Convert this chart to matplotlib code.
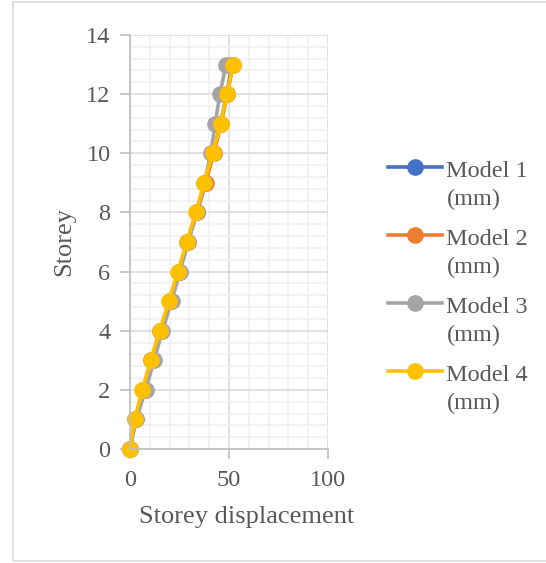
import numpy as np
import matplotlib.pyplot as plt
from matplotlib.patches import Rectangle
from matplotlib.legend_handler import HandlerLine2D

plt.rcParams['font.family'] = ['Liberation Serif', 'DejaVu Serif']

storey = [0, 1, 2, 3, 4, 5, 6, 7, 8, 9, 10, 11, 12, 13]
model1 = [0, 2.6, 6.5, 10.8, 15.3, 20.0, 24.6, 29.0, 33.6, 37.9, 42.0, 45.7, 48.9, 51.5]
model2 = [0, 2.8, 6.7, 11.0, 15.5, 20.2, 24.8, 29.3, 33.9, 38.2, 42.3, 46.0, 49.2, 52.0]
model3 = [0, 3.2, 7.9, 12.2, 16.4, 21.0, 25.3, 29.4, 33.7, 37.6, 40.8, 43.0, 45.4, 48.5]
model4 = [0, 2.3, 6.2, 10.4, 15.0, 19.6, 24.2, 28.6, 33.2, 37.5, 41.7, 45.8, 48.9, 52.1]

labels = ["Model 1\n(mm)", "Model 2\n(mm)", "Model 3\n(mm)", "Model 4\n(mm)"]
colors = ["#4472C4", "#ED7D31", "#A5A5A5", "#FFC000"]
txt = "#595959"


class FirstLineHandler(HandlerLine2D):
    # put the legend line next to the first text line, like Excel does
    def create_artists(self, legend, orig_handle, xdescent, ydescent,
                       width, height, fontsize, trans):
        arts = super().create_artists(legend, orig_handle, xdescent, ydescent,
                                      width, height, fontsize, trans)
        for a in arts:
            x, y = a.get_data()
            a.set_data(x, np.asarray(y) + 0.75 * fontsize)
        return arts


fig = plt.figure(figsize=(5.46, 5.63), dpi=100)
fig.patches.append(Rectangle((13/546, 2/563), 1.0, 559/563, transform=fig.transFigure,
                             fill=False, edgecolor="#D9D9D9", lw=1.2))
ax = fig.add_axes([130/546, 114/563, 198/546, 414/563])

lines = []
for xs, lab, c in zip([model1, model2, model3, model4], labels, colors):
    l, = ax.plot(xs, storey, "-o", color=c, lw=2.6, ms=11, label=lab, clip_on=False)
    lines.append(l)

ax.set_xlim(0, 100)
ax.set_ylim(0, 14)
ax.set_xticks([0, 50, 100])
ax.set_xticks(np.arange(0, 101, 10), minor=True)
ax.set_yticks(np.arange(0, 15, 2))
ax.set_yticks(np.arange(0, 14.01, 0.4), minor=True)
ax.grid(which="major", color="#D9D9D9", lw=1.1)
ax.grid(which="minor", color="#F0F0F0", lw=1.1)
ax.set_axisbelow(True)
for s in ["top", "right"]:
    ax.spines[s].set_visible(False)
for s in ["left", "bottom"]:
    ax.spines[s].set_color("#BFBFBF")
    ax.spines[s].set_linewidth(1.2)
ax.tick_params(which="major", length=7, width=1.2, color="#BFBFBF",
               labelsize=17.5, labelcolor=txt)
ax.tick_params(axis="y", pad=7)
ax.tick_params(axis="x", pad=8)
ax.tick_params(which="minor", length=0)

ax.set_xlabel("Storey displacement", fontsize=19, color=txt)
ax.xaxis.set_label_coords(0.59, -0.138)
ax.set_ylabel("Storey", fontsize=19, color=txt)
ax.yaxis.set_label_coords(-0.274, 0.5)

leg = fig.legend(handles=lines, loc="upper left", bbox_to_anchor=(376/546, 1 - 149/563),
                 frameon=False, fontsize=17.5, handlelength=2.2, handletextpad=0.2,
                 labelspacing=0.8, borderpad=0,
                 handler_map={l: FirstLineHandler() for l in lines})
for t in leg.get_texts():
    t.set_color(txt)
    t.set_linespacing(1.4)

fig.savefig("out.png", dpi=100)
